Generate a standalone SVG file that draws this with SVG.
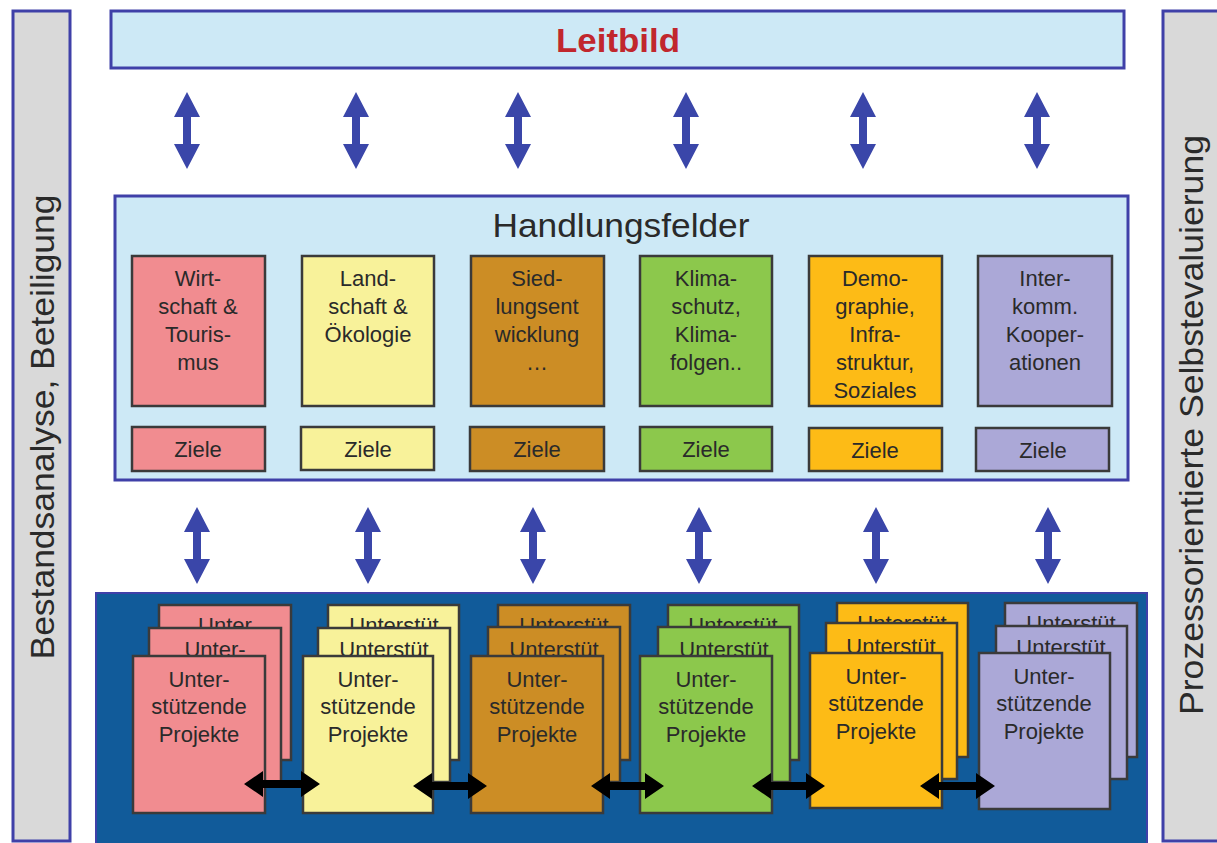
<svg xmlns="http://www.w3.org/2000/svg" width="1217" height="843" viewBox="0 0 1217 843">
<style>
.bar{fill:#d9d9d9;stroke:#3f40a8;stroke-width:3}
.lb{fill:#cde9f6;stroke:#3f40a8;stroke-width:3}
.panel{fill:#115b9a;stroke:#3f40a8;stroke-width:2}
.f{stroke:#3a3a3a;stroke-width:2.5}
.t{font-family:"Liberation Sans",Arial,sans-serif;fill:#2a2a2a;text-anchor:middle}
.ft{font-size:22px}
.pt{font-size:22px}
.va{fill:#3a46a9}
.ha{fill:#000}
.pink{fill:#f18c90}.yel{fill:#f8f29a}.brn{fill:#cc8d25}.grn{fill:#8cc84c}.org{fill:#fdbb16}.pur{fill:#aba8d7}
</style>
<rect width="1217" height="843" fill="#ffffff"/>
<g id="left-bar">
<rect class="bar" x="13" y="11" width="57" height="830"/>
<text class="t" transform="translate(54,427) rotate(-90)" font-size="34" textLength="465" lengthAdjust="spacingAndGlyphs">Bestandsanalyse, Beteiligung</text>
</g>
<g id="right-bar">
<rect class="bar" x="1163" y="11" width="80" height="830"/>
<text class="t" transform="translate(1203,425) rotate(-90)" font-size="34" textLength="580" lengthAdjust="spacingAndGlyphs">Prozessorientierte Selbstevaluierung</text>
</g>
<g id="leitbild">
<rect class="lb" x="111" y="11" width="1013" height="57"/>
<text x="618" y="52" font-family="Liberation Sans,Arial,sans-serif" font-weight="bold" font-size="34" fill="#c1272d" text-anchor="middle" textLength="124" lengthAdjust="spacingAndGlyphs">Leitbild</text>
</g>
<g id="handlungsfelder">
<rect class="lb" x="115" y="196" width="1013" height="284"/>
<text class="t" x="621" y="237" font-size="34" textLength="257" lengthAdjust="spacingAndGlyphs">Handlungsfelder</text>
</g>
<g id="panel">
<rect class="panel" x="96" y="593" width="1051" height="260"/>
</g>
<g id="hf-wirtschaft">
<rect class="f pink" x="132" y="256" width="133" height="150"/>
<text class="t ft" x="198" y="286">Wirt-</text>
<text class="t ft" x="198" y="314">schaft &amp;</text>
<text class="t ft" x="198" y="342">Touris-</text>
<text class="t ft" x="198" y="370">mus</text>
<rect class="f pink" x="132" y="427" width="133" height="44"/>
<text class="t ft" x="198" y="457">Ziele</text>
</g>
<g id="hf-landschaft">
<rect class="f yel" x="302" y="256" width="132" height="150"/>
<text class="t ft" x="368" y="286">Land-</text>
<text class="t ft" x="368" y="314">schaft &amp;</text>
<text class="t ft" x="368" y="342">Ökologie</text>
<rect class="f yel" x="301" y="427" width="133" height="43"/>
<text class="t ft" x="368" y="457">Ziele</text>
</g>
<g id="hf-siedlung">
<rect class="f brn" x="471" y="256" width="133" height="150"/>
<text class="t ft" x="537" y="286">Sied-</text>
<text class="t ft" x="537" y="314">lungsent</text>
<text class="t ft" x="537" y="342">wicklung</text>
<text class="t ft" x="537" y="370">…</text>
<rect class="f brn" x="470" y="427" width="134" height="44"/>
<text class="t ft" x="537" y="457">Ziele</text>
</g>
<g id="hf-klima">
<rect class="f grn" x="640" y="256" width="132" height="150"/>
<text class="t ft" x="706" y="286">Klima-</text>
<text class="t ft" x="706" y="314">schutz,</text>
<text class="t ft" x="706" y="342">Klima-</text>
<text class="t ft" x="706" y="370">folgen..</text>
<rect class="f grn" x="640" y="427" width="132" height="44"/>
<text class="t ft" x="706" y="457">Ziele</text>
</g>
<g id="hf-demographie">
<rect class="f org" x="809" y="256" width="133" height="150"/>
<text class="t ft" x="875" y="286">Demo-</text>
<text class="t ft" x="875" y="314">graphie,</text>
<text class="t ft" x="875" y="342">Infra-</text>
<text class="t ft" x="875" y="370">struktur,</text>
<text class="t ft" x="875" y="398">Soziales</text>
<rect class="f org" x="809" y="428" width="133" height="43"/>
<text class="t ft" x="875" y="458">Ziele</text>
</g>
<g id="hf-interkomm">
<rect class="f pur" x="978" y="256" width="134" height="150"/>
<text class="t ft" x="1045" y="286">Inter-</text>
<text class="t ft" x="1045" y="314">komm.</text>
<text class="t ft" x="1045" y="342">Kooper-</text>
<text class="t ft" x="1045" y="370">ationen</text>
<rect class="f pur" x="976" y="428" width="133" height="43"/>
<text class="t ft" x="1043" y="458">Ziele</text>
</g>
<g id="proj-wirtschaft">
<rect class="f pink" x="159" y="605" width="132" height="155"/>
<text class="t pt" x="225" y="633">Unter</text>
<rect class="f pink" x="149" y="628" width="132" height="154"/>
<text class="t pt" x="215" y="657">Unter-</text>
<rect class="f pink" x="133" y="656" width="132" height="157"/>
<text class="t pt" x="199" y="687">Unter-</text>
<text class="t pt" x="199" y="714">stützende</text>
<text class="t pt" x="199" y="742">Projekte</text>
</g>
<g id="proj-landschaft">
<rect class="f yel" x="328" y="605" width="131" height="155"/>
<text class="t pt" x="394" y="633">Unterstüt</text>
<rect class="f yel" x="318" y="628" width="132" height="154"/>
<text class="t pt" x="384" y="657">Unterstüt</text>
<rect class="f yel" x="303" y="656" width="130" height="157"/>
<text class="t pt" x="368" y="687">Unter-</text>
<text class="t pt" x="368" y="714">stützende</text>
<text class="t pt" x="368" y="742">Projekte</text>
</g>
<g id="proj-siedlung">
<rect class="f brn" x="498" y="605" width="132" height="155"/>
<text class="t pt" x="564" y="633">Unterstüt</text>
<rect class="f brn" x="488" y="627" width="132" height="155"/>
<text class="t pt" x="554" y="657">Unterstüt</text>
<rect class="f brn" x="471" y="656" width="132" height="157"/>
<text class="t pt" x="537" y="687">Unter-</text>
<text class="t pt" x="537" y="714">stützende</text>
<text class="t pt" x="537" y="742">Projekte</text>
</g>
<g id="proj-klima">
<rect class="f grn" x="668" y="605" width="131" height="155"/>
<text class="t pt" x="733" y="633">Unterstüt</text>
<rect class="f grn" x="658" y="627" width="132" height="155"/>
<text class="t pt" x="724" y="657">Unterstüt</text>
<rect class="f grn" x="640" y="656" width="132" height="157"/>
<text class="t pt" x="706" y="687">Unter-</text>
<text class="t pt" x="706" y="714">stützende</text>
<text class="t pt" x="706" y="742">Projekte</text>
</g>
<g id="proj-demographie">
<rect class="f org" x="837" y="603" width="131" height="154"/>
<text class="t pt" x="902" y="631">Unterstüt</text>
<rect class="f org" x="826" y="623" width="131" height="156"/>
<text class="t pt" x="891" y="654">Unterstüt</text>
<rect class="f org" x="810" y="653" width="132" height="155"/>
<text class="t pt" x="876" y="684">Unter-</text>
<text class="t pt" x="876" y="711">stützende</text>
<text class="t pt" x="876" y="739">Projekte</text>
</g>
<g id="proj-interkomm">
<rect class="f pur" x="1005" y="603" width="132" height="154"/>
<text class="t pt" x="1071" y="631">Unterstüt</text>
<rect class="f pur" x="996" y="626" width="131" height="153"/>
<text class="t pt" x="1061" y="655">Unterstüt</text>
<rect class="f pur" x="979" y="653" width="131" height="156"/>
<text class="t pt" x="1044" y="684">Unter-</text>
<text class="t pt" x="1044" y="711">stützende</text>
<text class="t pt" x="1044" y="739">Projekte</text>
</g>
<g id="connectors">
<defs>
<path id="va1" d="M0,0 L13,25 L4,25 L4,52 L13,52 L0,77 L-13,52 L-4,52 L-4,25 L-13,25 Z"/>
</defs>
<use href="#va1" class="va" x="187" y="92"/>
<use href="#va1" class="va" x="356" y="92"/>
<use href="#va1" class="va" x="518" y="92"/>
<use href="#va1" class="va" x="686" y="92"/>
<use href="#va1" class="va" x="863" y="92"/>
<use href="#va1" class="va" x="1037" y="92"/>
<use href="#va1" class="va" x="197" y="507"/>
<use href="#va1" class="va" x="368" y="507"/>
<use href="#va1" class="va" x="533" y="507"/>
<use href="#va1" class="va" x="699" y="507"/>
<use href="#va1" class="va" x="876" y="507"/>
<use href="#va1" class="va" x="1048" y="507"/>
<path class="ha" d="M244,784 L263,771 L263,780 L301,780 L301,771 L320,784 L301,797 L301,788 L263,788 L263,797 Z"/>
<path class="ha" d="M413,786 L432,773 L432,782 L468,782 L468,773 L487,786 L468,799 L468,790 L432,790 L432,799 Z"/>
<path class="ha" d="M591,786 L610,773 L610,782 L645,782 L645,773 L664,786 L645,799 L645,790 L610,790 L610,799 Z"/>
<path class="ha" d="M752,786 L771,773 L771,782 L806,782 L806,773 L825,786 L806,799 L806,790 L771,790 L771,799 Z"/>
<path class="ha" d="M920,786 L939,773 L939,782 L976,782 L976,773 L995,786 L976,799 L976,790 L939,790 L939,799 Z"/>
</g>
</svg>
